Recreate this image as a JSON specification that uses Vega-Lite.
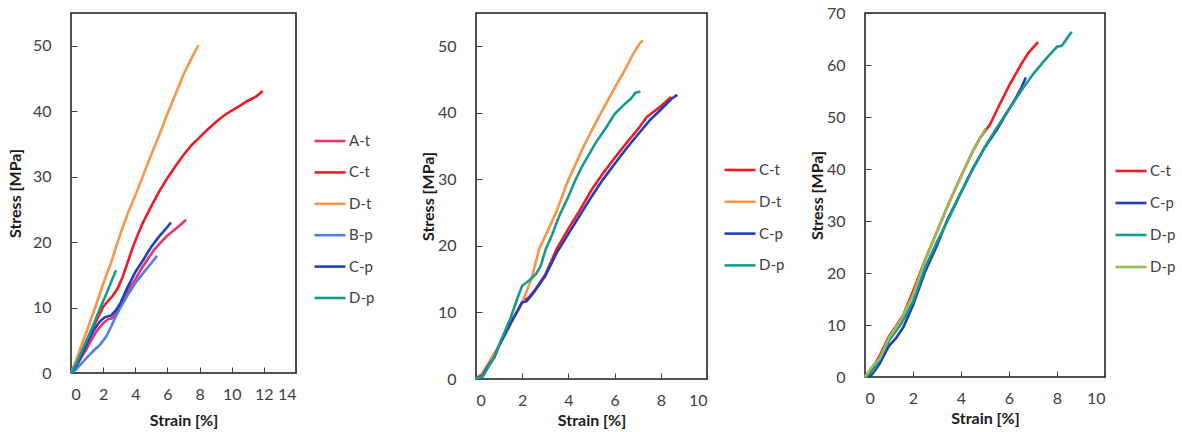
{
  "$schema": "https://vega.github.io/schema/vega-lite/v6.json",
  "padding": {"left": 6, "top": 4, "right": 5, "bottom": 0},
  "background": "white",
  "bounds": "flush",
  "spacing": 180,
  "config": {
    "font": "Lato",
    "view": {"stroke": "#1a1a1a", "strokeWidth": 1.5},
    "axis": {"grid": false, "domain": false, "tickColor": "#404040", "tickSize": -6, "tickWidth": 1, "labelFont": "Lato", "labelFontSize": 16, "labelColor": "#404040", "titleFont": "Lato", "titleFontSize": 16, "titleFontWeight": "bold", "titleColor": "#1a1a1a"},
    "legend": {"orient": "none", "symbolType": "stroke", "symbolSize": 961, "symbolStrokeWidth": 3, "labelFont": "Lato", "labelFontSize": 15, "labelColor": "#404040", "labelOffset": 2, "rowPadding": 7, "padding": 0},
    "line": {"strokeWidth": 2.6}
  },
  "hconcat": [
    {
      "width": 225,
      "height": 360,
      "data": {"values": [
        {"s":"A-t","x":0,"y":0},{"s":"A-t","x":0.3,"y":0.9},{"s":"A-t","x":0.6,"y":2.2},{"s":"A-t","x":1,"y":3.8},{"s":"A-t","x":1.3,"y":5.2},{"s":"A-t","x":1.6,"y":6.4},{"s":"A-t","x":2,"y":7.6},{"s":"A-t","x":2.3,"y":8.2},{"s":"A-t","x":2.6,"y":8.4},{"s":"A-t","x":3,"y":9.8},{"s":"A-t","x":3.3,"y":11.3},{"s":"A-t","x":3.6,"y":12.8},{"s":"A-t","x":4,"y":14.3},{"s":"A-t","x":4.4,"y":16},{"s":"A-t","x":4.8,"y":17.5},{"s":"A-t","x":5.2,"y":18.9},{"s":"A-t","x":5.6,"y":20},{"s":"A-t","x":6,"y":21},{"s":"A-t","x":6.4,"y":21.8},{"s":"A-t","x":6.8,"y":22.6},{"s":"A-t","x":7.16,"y":23.4},
        {"s":"C-t","x":0,"y":0},{"s":"C-t","x":0.3,"y":1.4},{"s":"C-t","x":0.6,"y":2.8},{"s":"C-t","x":1,"y":5.1},{"s":"C-t","x":1.3,"y":6.6},{"s":"C-t","x":1.6,"y":8.1},{"s":"C-t","x":2,"y":10.1},{"s":"C-t","x":2.3,"y":11},{"s":"C-t","x":2.6,"y":11.8},{"s":"C-t","x":2.9,"y":12.9},{"s":"C-t","x":3.2,"y":14.6},{"s":"C-t","x":3.5,"y":16.7},{"s":"C-t","x":3.8,"y":18.9},{"s":"C-t","x":4.1,"y":20.8},{"s":"C-t","x":4.5,"y":23.1},{"s":"C-t","x":5,"y":25.5},{"s":"C-t","x":5.5,"y":27.8},{"s":"C-t","x":6,"y":29.8},{"s":"C-t","x":6.5,"y":31.6},{"s":"C-t","x":7,"y":33.3},{"s":"C-t","x":7.5,"y":34.8},{"s":"C-t","x":8,"y":36},{"s":"C-t","x":8.5,"y":37.2},{"s":"C-t","x":9,"y":38.3},{"s":"C-t","x":9.5,"y":39.3},{"s":"C-t","x":10,"y":40.1},{"s":"C-t","x":10.5,"y":40.8},{"s":"C-t","x":11,"y":41.6},{"s":"C-t","x":11.5,"y":42.2},{"s":"C-t","x":11.93,"y":43.1},
        {"s":"D-t","x":0,"y":0},{"s":"D-t","x":0.3,"y":1.8},{"s":"D-t","x":0.6,"y":3.9},{"s":"D-t","x":1,"y":6.5},{"s":"D-t","x":1.5,"y":10},{"s":"D-t","x":2,"y":13.6},{"s":"D-t","x":2.5,"y":16.9},{"s":"D-t","x":2.9,"y":20},{"s":"D-t","x":3.5,"y":24.2},{"s":"D-t","x":4,"y":27.1},{"s":"D-t","x":4.46,"y":30},{"s":"D-t","x":5,"y":33.4},{"s":"D-t","x":5.5,"y":36.4},{"s":"D-t","x":6,"y":39.6},{"s":"D-t","x":6.5,"y":42.6},{"s":"D-t","x":7,"y":45.6},{"s":"D-t","x":7.5,"y":48.1},{"s":"D-t","x":7.93,"y":50.1},
        {"s":"B-p","x":0,"y":0},{"s":"B-p","x":0.3,"y":0.5},{"s":"B-p","x":0.6,"y":1.3},{"s":"B-p","x":1,"y":2.4},{"s":"B-p","x":1.4,"y":3.4},{"s":"B-p","x":1.8,"y":4.3},{"s":"B-p","x":2.2,"y":5.6},{"s":"B-p","x":2.5,"y":7.1},{"s":"B-p","x":2.8,"y":8.7},{"s":"B-p","x":3.1,"y":10.1},{"s":"B-p","x":3.5,"y":11.8},{"s":"B-p","x":4,"y":13.7},{"s":"B-p","x":4.5,"y":15.3},{"s":"B-p","x":5,"y":16.8},{"s":"B-p","x":5.35,"y":17.9},
        {"s":"C-p","x":0,"y":0},{"s":"C-p","x":0.3,"y":1},{"s":"C-p","x":0.6,"y":2.4},{"s":"C-p","x":1,"y":4.5},{"s":"C-p","x":1.4,"y":6.5},{"s":"C-p","x":1.8,"y":7.9},{"s":"C-p","x":2.1,"y":8.5},{"s":"C-p","x":2.5,"y":8.8},{"s":"C-p","x":2.8,"y":9.6},{"s":"C-p","x":3.1,"y":10.8},{"s":"C-p","x":3.5,"y":13},{"s":"C-p","x":4,"y":15.4},{"s":"C-p","x":4.5,"y":17.3},{"s":"C-p","x":5,"y":19.3},{"s":"C-p","x":5.5,"y":20.9},{"s":"C-p","x":6,"y":22.3},{"s":"C-p","x":6.22,"y":23},
        {"s":"D-p","x":0,"y":0},{"s":"D-p","x":0.3,"y":1.3},{"s":"D-p","x":0.6,"y":2.9},{"s":"D-p","x":1,"y":5.1},{"s":"D-p","x":1.4,"y":7.4},{"s":"D-p","x":1.8,"y":9.8},{"s":"D-p","x":2.2,"y":12.1},{"s":"D-p","x":2.5,"y":13.9},{"s":"D-p","x":2.8,"y":15.7}
      ]},
      "mark": {"type": "line"},
      "encoding": {
        "x": {"field": "x", "type": "quantitative", "scale": {"domain": [0, 14], "nice": false}, "axis": {"values": [0,2,4,6,8,10,12,14], "title": "Strain [%]", "labelPadding": 19, "titlePadding": 10}},
        "y": {"field": "y", "type": "quantitative", "scale": {"domain": [0, 55], "nice": false}, "axis": {"values": [0,10,20,30,40,50], "title": "Stress [MPa]", "labelPadding": 26, "titlePadding": 9}},
        "color": {"field": "s", "type": "nominal", "scale": {"domain": ["A-t","C-t","D-t","B-p","C-p","D-p"], "range": ["#e8336f","#ee1c24","#f79646","#4f7fe8","#1f3fbf","#17998b"]}, "legend": {"title": null, "legendX": 242, "legendY": 111, "rowPadding": 6.4}}
      }
    },
    {
      "bounds": "flush",
      "spacing": 158,
      "hconcat": [
        {
          "width": 231,
          "height": 366,
          "data": {"values": [
            {"s":"C-t","x":0,"y":0},{"s":"C-t","x":0.3,"y":0.9},{"s":"C-t","x":0.6,"y":2.6},{"s":"C-t","x":1,"y":5},{"s":"C-t","x":1.5,"y":8.4},{"s":"C-t","x":1.8,"y":10.2},{"s":"C-t","x":2,"y":11.6},{"s":"C-t","x":2.3,"y":12.3},{"s":"C-t","x":2.6,"y":13.6},{"s":"C-t","x":3,"y":15.7},{"s":"C-t","x":3.5,"y":19.6},{"s":"C-t","x":4,"y":22.6},{"s":"C-t","x":4.5,"y":25.4},{"s":"C-t","x":5,"y":28.4},{"s":"C-t","x":5.5,"y":30.9},{"s":"C-t","x":6,"y":33.2},{"s":"C-t","x":6.5,"y":35.4},{"s":"C-t","x":7,"y":37.5},{"s":"C-t","x":7.4,"y":39.4},{"s":"C-t","x":8,"y":41},{"s":"C-t","x":8.45,"y":42.4},
            {"s":"D-t","x":0,"y":0},{"s":"D-t","x":0.3,"y":1},{"s":"D-t","x":0.6,"y":2.7},{"s":"D-t","x":1,"y":5},{"s":"D-t","x":1.5,"y":8.2},{"s":"D-t","x":2,"y":11.5},{"s":"D-t","x":2.4,"y":15},{"s":"D-t","x":2.73,"y":19.5},{"s":"D-t","x":3,"y":21.5},{"s":"D-t","x":3.5,"y":25.3},{"s":"D-t","x":3.97,"y":29.7},{"s":"D-t","x":4.6,"y":34.5},{"s":"D-t","x":5,"y":37.3},{"s":"D-t","x":5.41,"y":40},{"s":"D-t","x":6,"y":43.7},{"s":"D-t","x":6.5,"y":46.8},{"s":"D-t","x":6.8,"y":48.8},{"s":"D-t","x":7.08,"y":50.4},{"s":"D-t","x":7.22,"y":50.9},
            {"s":"C-p","x":0,"y":0},{"s":"C-p","x":0.3,"y":0.6},{"s":"C-p","x":0.5,"y":1.8},{"s":"C-p","x":0.8,"y":3.3},{"s":"C-p","x":1,"y":5},{"s":"C-p","x":1.5,"y":8.4},{"s":"C-p","x":2,"y":11.5},{"s":"C-p","x":2.2,"y":11.7},{"s":"C-p","x":2.5,"y":13},{"s":"C-p","x":3,"y":15.5},{"s":"C-p","x":3.5,"y":19},{"s":"C-p","x":4,"y":21.8},{"s":"C-p","x":4.5,"y":24.6},{"s":"C-p","x":5,"y":27.4},{"s":"C-p","x":5.5,"y":30},{"s":"C-p","x":6,"y":32.3},{"s":"C-p","x":6.5,"y":34.6},{"s":"C-p","x":7,"y":36.7},{"s":"C-p","x":7.5,"y":38.8},{"s":"C-p","x":8,"y":40.5},{"s":"C-p","x":8.5,"y":42.2},{"s":"C-p","x":8.71,"y":42.7},
            {"s":"D-p","x":0,"y":0},{"s":"D-p","x":0.3,"y":0.4},{"s":"D-p","x":0.5,"y":1.6},{"s":"D-p","x":0.8,"y":3.3},{"s":"D-p","x":1,"y":5.1},{"s":"D-p","x":1.5,"y":9.2},{"s":"D-p","x":1.8,"y":12.2},{"s":"D-p","x":2,"y":14},{"s":"D-p","x":2.3,"y":14.8},{"s":"D-p","x":2.6,"y":15.8},{"s":"D-p","x":2.8,"y":17},{"s":"D-p","x":3.02,"y":19.5},{"s":"D-p","x":3.3,"y":21.7},{"s":"D-p","x":3.6,"y":24.5},{"s":"D-p","x":4,"y":27.4},{"s":"D-p","x":4.25,"y":29.5},{"s":"D-p","x":4.6,"y":32},{"s":"D-p","x":5.2,"y":35.6},{"s":"D-p","x":5.6,"y":37.6},{"s":"D-p","x":6,"y":39.8},{"s":"D-p","x":6.4,"y":41.2},{"s":"D-p","x":6.7,"y":42.1},{"s":"D-p","x":6.9,"y":43},{"s":"D-p","x":7.12,"y":43.2}
          ]},
          "mark": {"type": "line"},
          "encoding": {
            "x": {"field": "x", "type": "quantitative", "scale": {"domain": [0, 10], "nice": false}, "axis": {"values": [0,2,4,6,8,10], "title": "Strain [%]", "labelPadding": 19, "titlePadding": 4}},
            "y": {"field": "y", "type": "quantitative", "scale": {"domain": [0, 55], "nice": false}, "axis": {"values": [0,10,20,30,40,50], "title": "Stress [MPa]", "labelPadding": 26, "titlePadding": 1}},
            "color": {"field": "s", "type": "nominal", "scale": {"domain": ["C-t","D-t","C-p","D-p"], "range": ["#ee1c24","#f79646","#1f3fbf","#17998b"]}, "legend": {"title": null, "legendX": 247, "legendY": 140, "rowPadding": 6.8}}
          }
        },
        {
          "width": 240,
          "height": 364,
          "data": {"values": [
            {"s":"C-t","x":0,"y":0},{"s":"C-t","x":0.3,"y":1.5},{"s":"C-t","x":0.6,"y":4},{"s":"C-t","x":1,"y":7.8},{"s":"C-t","x":1.3,"y":9.8},{"s":"C-t","x":1.6,"y":12},{"s":"C-t","x":2,"y":16.5},{"s":"C-t","x":2.5,"y":22.5},{"s":"C-t","x":3,"y":28},{"s":"C-t","x":3.5,"y":33.5},{"s":"C-t","x":4,"y":38.6},{"s":"C-t","x":4.5,"y":43.5},{"s":"C-t","x":4.8,"y":46},{"s":"C-t","x":5.2,"y":48.5},{"s":"C-t","x":5.6,"y":52.3},{"s":"C-t","x":6,"y":56},{"s":"C-t","x":6.49,"y":60},{"s":"C-t","x":6.8,"y":62.3},{"s":"C-t","x":7.21,"y":64.4},
            {"s":"C-p","x":0,"y":0},{"s":"C-p","x":0.3,"y":0.5},{"s":"C-p","x":0.6,"y":2.5},{"s":"C-p","x":1,"y":6},{"s":"C-p","x":1.3,"y":7.5},{"s":"C-p","x":1.6,"y":9.6},{"s":"C-p","x":2,"y":13.8},{"s":"C-p","x":2.5,"y":20.2},{"s":"C-p","x":3,"y":25.3},{"s":"C-p","x":3.41,"y":30},{"s":"C-p","x":4,"y":35.5},{"s":"C-p","x":4.48,"y":40},{"s":"C-p","x":5,"y":44.2},{"s":"C-p","x":5.5,"y":47.6},{"s":"C-p","x":5.8,"y":50},{"s":"C-p","x":6.2,"y":53},{"s":"C-p","x":6.5,"y":55.5},{"s":"C-p","x":6.7,"y":57.6},
            {"s":"D-p","x":0,"y":0},{"s":"D-p","x":0.3,"y":1},{"s":"D-p","x":0.6,"y":3.2},{"s":"D-p","x":1,"y":7},{"s":"D-p","x":1.5,"y":10.2},{"s":"D-p","x":2,"y":14.5},{"s":"D-p","x":2.5,"y":21},{"s":"D-p","x":3,"y":26},{"s":"D-p","x":3.5,"y":30.6},{"s":"D-p","x":4,"y":35.5},{"s":"D-p","x":4.5,"y":40},{"s":"D-p","x":5,"y":44.3},{"s":"D-p","x":5.5,"y":48},{"s":"D-p","x":6,"y":51.5},{"s":"D-p","x":6.5,"y":55},{"s":"D-p","x":7,"y":58.2},{"s":"D-p","x":7.5,"y":61},{"s":"D-p","x":8,"y":63.5},{"s":"D-p","x":8.2,"y":63.7},{"s":"D-p","x":8.61,"y":66.4},
            {"s":"D-p2","x":0,"y":0},{"s":"D-p2","x":0.3,"y":2},{"s":"D-p2","x":0.6,"y":3.5},{"s":"D-p2","x":1,"y":7.5},{"s":"D-p2","x":1.5,"y":11},{"s":"D-p2","x":2,"y":15.8},{"s":"D-p2","x":2.5,"y":22.5},{"s":"D-p2","x":3,"y":28},{"s":"D-p2","x":3.5,"y":33.5},{"s":"D-p2","x":4,"y":38.5},{"s":"D-p2","x":4.5,"y":43.5},{"s":"D-p2","x":5.03,"y":47.8}
          ]},
          "mark": {"type": "line"},
          "encoding": {
            "x": {"field": "x", "type": "quantitative", "scale": {"domain": [0, 10], "nice": false}, "axis": {"values": [0,2,4,6,8,10], "title": "Strain [%]", "labelPadding": 19, "titlePadding": 4}},
            "y": {"field": "y", "type": "quantitative", "scale": {"domain": [0, 70], "nice": false}, "axis": {"values": [0,10,20,30,40,50,60,70], "title": "Stress [MPa]", "labelPadding": 26, "titlePadding": 1}},
            "color": {"field": "s", "type": "nominal", "scale": {"domain": ["C-t","C-p","D-p","D-p2"], "range": ["#ee1c24","#1f3fbf","#17998b","#9bbb59"]}, "legend": {"title": null, "legendX": 249, "legendY": 141, "rowPadding": 7, "labelExpr": "datum.label == 'D-p2' ? 'D-p' : datum.label"}}
          }
        }
      ],
      "resolve": {"scale": {"color": "independent", "x": "independent", "y": "independent"}, "legend": {"color": "independent"}}
    }
  ],
  "resolve": {"scale": {"color": "independent", "x": "independent", "y": "independent"}, "legend": {"color": "independent"}}
}
